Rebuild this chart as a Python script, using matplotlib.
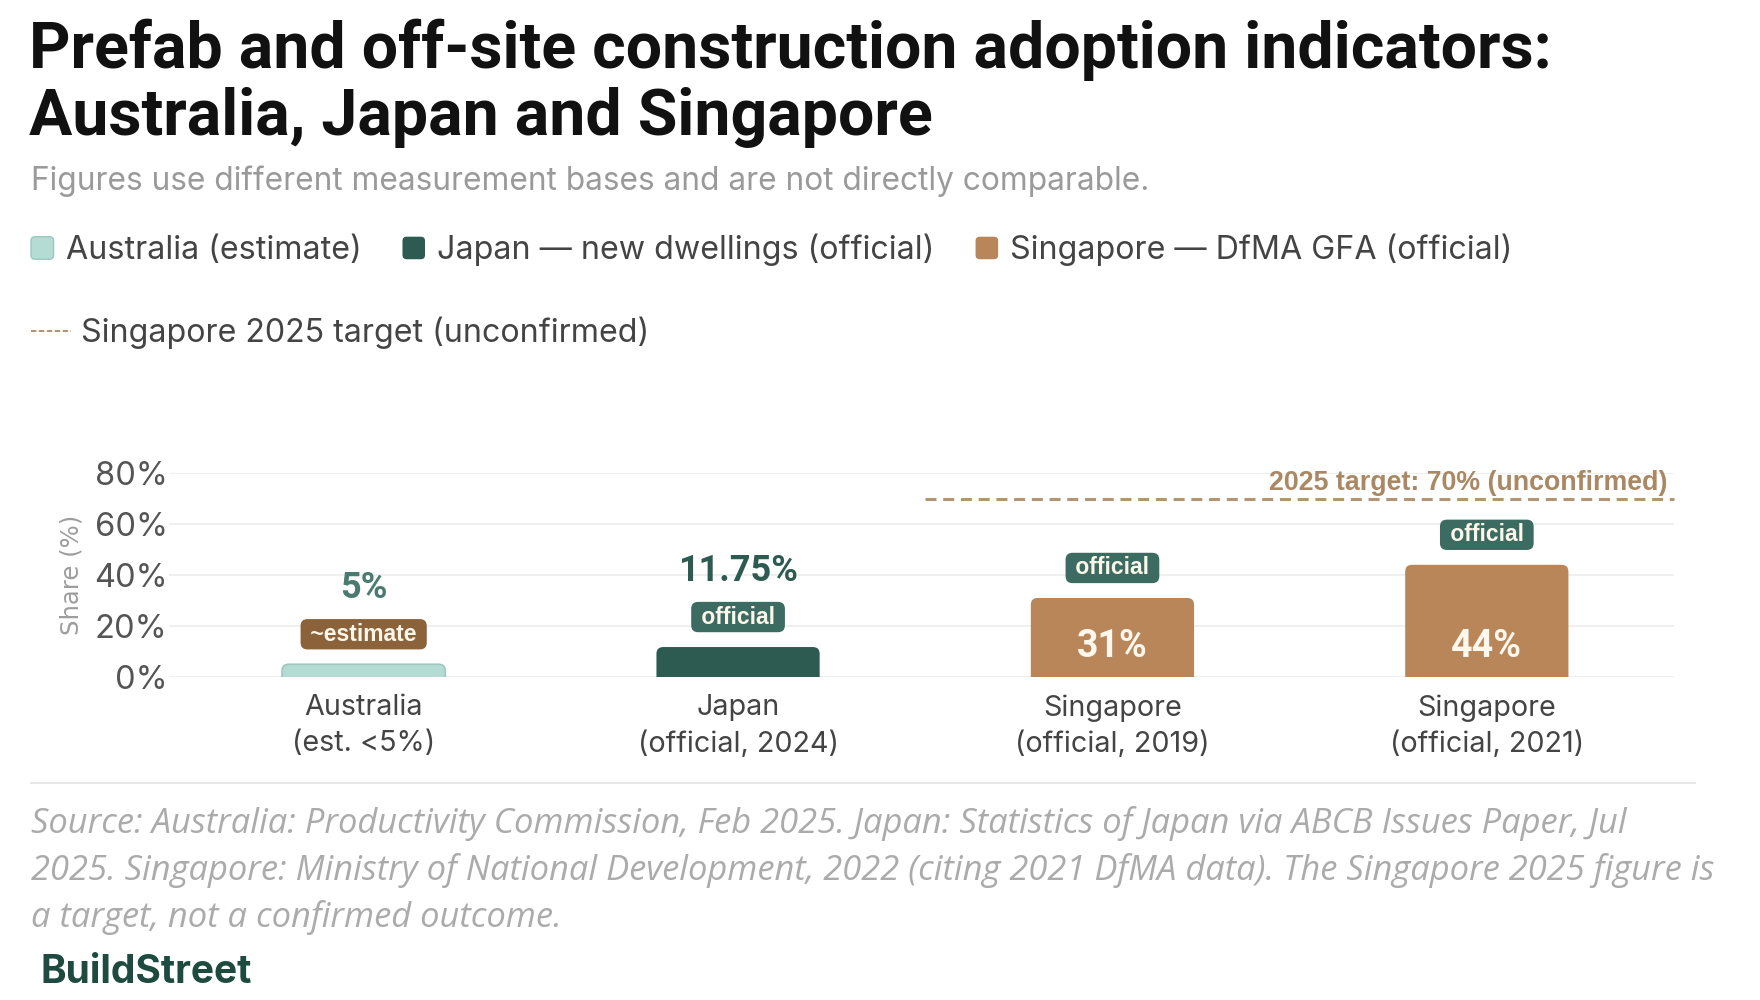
import matplotlib
matplotlib.use('Agg')
import matplotlib.pyplot as plt
from matplotlib.patches import FancyBboxPatch, Patch
from matplotlib.lines import Line2D
from matplotlib.legend_handler import HandlerPatch

plt.rcParams['font.family'] = ['Inter', 'DejaVu Sans']

# data
categories = ["Australia\n(est. <5%)", "Japan\n(official, 2024)",
              "Singapore\n(official, 2019)", "Singapore\n(official, 2021)"]
shares = [5, 11.75, 31, 44]
value_labels = ["5%", "11.75%", "31%", "44%"]
badges = ["~estimate", "official", "official", "official"]
label_inside = [False, False, True, True]
series = ["Australia (estimate)", "Japan \u2014 new dwellings (official)",
          "Singapore \u2014 DfMA GFA (official)"]
bar_series = [0, 1, 2, 2]
target_value = 70
target_label = "2025 target: 70% (unconfirmed)"
target_name = "Singapore 2025 target (unconfirmed)"
yticks = [0, 20, 40, 60, 80]

source_lines = [
    "Source: Australia: Productivity Commission, Feb 2025. Japan: Statistics of Japan via ABCB Issues Paper, Jul",
    "2025. Singapore: Ministry of National Development, 2022 (citing 2021 DfMA data). The Singapore 2025 figure is",
    "a target, not a confirmed outcome.",
]

series_colors = ["#b5dbd5", "#2d5b51", "#b9865a"]
series_edges = ["#9cc7bf", "none", "none"]
value_colors = ["#4b7a70", "#2d5b51", "#fff8ee", "#fff8ee"]
badge_colors = {"~estimate": "#8b6239", "official": "#3b6b61"}
target_color = "#b39473"

W, H = 1760, 1000
def fx(px):
    return px / W
def fy(px):
    return 1 - px / H

fig = plt.figure(figsize=(17.6, 10), dpi=100)

# title block
fig.text(fx(29), fy(68), "Prefab and off-site construction adoption indicators:",
         fontsize=46.4, fontweight='bold', family='Roboto', color='#111111', va='baseline')
fig.text(fx(29), fy(135), "Australia, Japan and Singapore",
         fontsize=46.4, fontweight='bold', family='Roboto', color='#111111', va='baseline')
fig.text(fx(31), fy(190), "Figures use different measurement bases and are not directly comparable.",
         fontsize=22.8, color='#9a9a9a', va='baseline')

# axes
ax = fig.add_axes([fx(169), fy(677), fx(1674) - fx(169), (677 - 473) / H])
x = list(range(len(shares)))
ax.set_xlim(-0.52, 3.5)
ax.set_ylim(0, 80)
for s in ax.spines.values():
    s.set_visible(False)
ax.set_yticks(yticks)
ax.set_yticklabels([f"{v}%" for v in yticks], fontsize=23.5, color='#555555')
ax.set_xticks(x)
ax.set_xticklabels(categories, fontsize=20.7, color='#444444', linespacing=1.41)
ax.tick_params(axis='both', length=0)
ax.tick_params(axis='y', pad=1)
ax.tick_params(axis='x', pad=12.5)
ax.yaxis.grid(True, color='#ececec', lw=1.2)
ax.set_axisbelow(True)

bars = ax.bar(x, shares, width=0.436, color=[series_colors[s] for s in bar_series])

# swap the plain bars for ones with rounded tops
p0 = ax.transData.transform((0, 0))
p1 = ax.transData.transform((1, 1))
aspect = (p1[0] - p0[0]) / (p1[1] - p0[1])
r = 0.018
for b, s in zip(bars, bar_series):
    b.set_visible(False)
    ry = r * aspect
    rb = FancyBboxPatch((b.get_x(), -ry), b.get_width(), b.get_height() + ry,
                        boxstyle=f"round,pad=0,rounding_size={r}", mutation_aspect=aspect,
                        facecolor=series_colors[s], edgecolor=series_edges[s],
                        linewidth=1.2, zorder=2)
    ax.add_patch(rb)

for xi, h, val, badge, inside, vc in zip(x, shares, value_labels, badges, label_inside, value_colors):
    ax.annotate(" " + badge + " ", xy=(xi, h), xytext=(0, 21.6), textcoords='offset points',
                ha='center', va='center', fontsize=16.5, family='Liberation Sans',
                fontweight='bold', color='#fdf6ea', zorder=5,
                bbox=dict(boxstyle='round,pad=0.16,rounding_size=0.3',
                          fc=badge_colors[badge], ec='none'))
    if inside:
        ax.annotate(val, xy=(xi, 0), xytext=(0, 22), textcoords='offset points',
                    ha='center', va='center', fontsize=27, family='Roboto',
                    fontweight='bold', color=vc, zorder=5)
    else:
        ax.annotate(val, xy=(xi, h), xytext=(0, 55), textcoords='offset points',
                    ha='center', va='center', fontsize=26, family='Roboto',
                    fontweight='bold', color=vc, zorder=5)

# target line
ax.hlines(target_value, 1.5, ax.get_xlim()[1], color=target_color, lw=2.2,
          linestyles=[(0, (3.6, 2.2))], zorder=3, clip_on=False)
ax.annotate(target_label, xy=(ax.get_xlim()[1], target_value), xytext=(-5, 11),
            textcoords='offset points', ha='right', va='center', fontsize=19.3,
            family='Liberation Sans', fontweight='bold', color='#aa8863', annotation_clip=False)

fig.text(fx(71), fy(575), "Share (%)", rotation=90, ha='center', va='center',
         fontsize=17.5, family='DejaVu Sans', color='#9d9d9d')

# legends
def rounded(legend, orig_handle, xdescent, ydescent, width, height, fontsize):
    return FancyBboxPatch((-xdescent, -ydescent), width, height,
                          boxstyle="round,pad=0,rounding_size=3")

handles = [Patch(facecolor=c, edgecolor=e, linewidth=1.0) for c, e in zip(series_colors, series_edges)]
fig.legend(handles, series, loc='center left', bbox_to_anchor=(fx(31), fy(250)), ncols=3,
           frameon=False, fontsize=23.2, labelcolor='#444444', handlelength=0.7,
           handleheight=0.7, handletextpad=0.38, columnspacing=1.27, borderpad=0,
           borderaxespad=0, handler_map={Patch: HandlerPatch(patch_func=rounded)})
fig.legend([Line2D([], [], color=target_color, lw=1.5, linestyle=(0, (2.6, 1.2)))],
           [target_name], loc='center left', bbox_to_anchor=(fx(31), fy(333)),
           frameon=False, fontsize=23.2, labelcolor='#444444', handlelength=1.23,
           handletextpad=0.31, borderpad=0, borderaxespad=0)

# footer
fig.add_artist(Line2D([fx(31), fx(1695)], [fy(783), fy(783)], transform=fig.transFigure,
                      color='#e3e3e3', lw=1.2))
for i, line in enumerate(source_lines):
    fig.text(fx(31), fy(833 + 47 * i), line, fontsize=24.8, family='Open Sans', style='italic',
             color='#ababab', va='baseline')
fig.text(fx(40), fy(983), "BuildStreet", fontsize=28, fontweight='bold', color='#1e4a40',
         va='baseline')

fig.savefig('out.png', dpi=100)
